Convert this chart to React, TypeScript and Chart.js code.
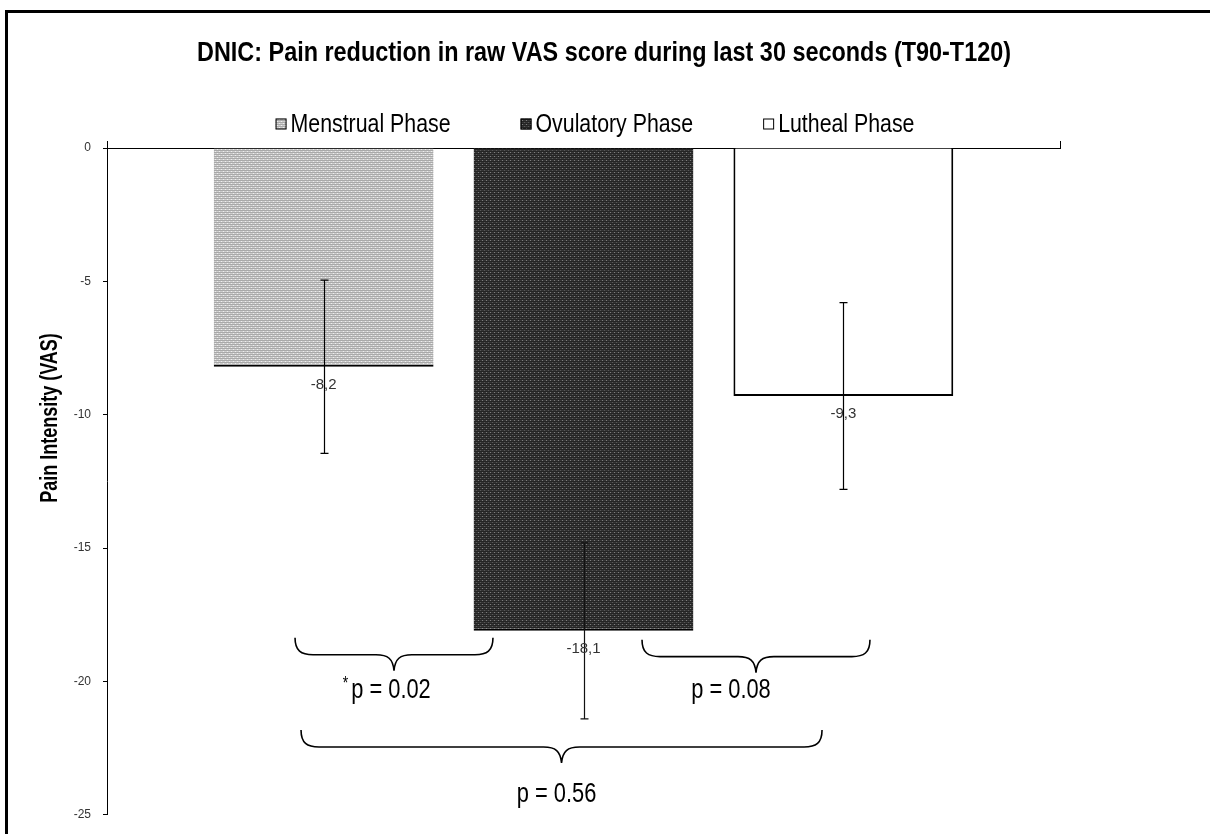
import React, { useEffect, useRef } from 'react';
import { Chart, registerables } from 'chart.js';

Chart.register(...registerables);

// ---------- data ----------
const categories = ['DNIC T90-T120'];
const seriesLabels = ['Menstrual Phase', 'Ovulatory Phase', 'Lutheal Phase'];
const menstrualValues = [-8.2];
const ovulatoryValues = [-18.1];
const lutealValues = [-9.3];
const errorMargins = [3.25, 3.3, 3.5];
const valueLabels = ['-8,2', '-18,1', '-9,3'];
const yTickValues = [0, -5, -10, -15, -20, -25];
const comparisonLabels = ['p = 0.02', 'p = 0.08', 'p = 0.56'];
const comparisonMarks = ['*', '', ''];

const chartTitle = 'DNIC: Pain reduction in raw VAS score during last 30 seconds (T90-T120)';
const yAxisTitle = 'Pain Intensity (VAS)';

// ---------- styles ----------
const SANS = "'Liberation Sans', Arial, sans-serif";
const NARROW_X = 0.82; // horizontal squeeze that emulates Arial Narrow

// brace geometry: x in category-width units around the category centre, y in data units
const braceGeometry = [
  { x0: -0.3027, x1: -0.095, yLine: -19.0, yLabel: -20.34, labelDx: -3 },
  { x0: 0.0614, x1: 0.3006, yLine: -19.07, yLabel: -20.34, labelDx: -25 },
  { x0: -0.2964, x1: 0.2503, yLine: -22.46, yLabel: -24.22, labelDx: -5 },
];

function makePattern(kind: string): CanvasPattern | string {
  const c = document.createElement('canvas');
  c.width = 4;
  c.height = 4;
  const g = c.getContext('2d');
  if (!g) return kind === 'light' ? '#c8c8c8' : '#3a3a3a';
  if (kind === 'light') {
    g.fillStyle = '#cdcdcd';
    g.fillRect(0, 0, 4, 4);
    g.fillStyle = '#a9a9a9';
    g.fillRect(0, 0, 4, 1);
    g.fillRect(0, 2, 4, 1);
    g.fillStyle = '#efefef';
    g.fillRect(1, 1, 1, 1);
    g.fillRect(3, 3, 1, 1);
  } else {
    g.fillStyle = '#363636';
    g.fillRect(0, 0, 4, 4);
    g.fillStyle = '#242424';
    g.fillRect(0, 1, 4, 1);
    g.fillRect(0, 3, 4, 1);
    g.fillStyle = '#7e7e7e';
    g.fillRect(2, 0, 1, 1);
    g.fillStyle = '#585858';
    g.fillRect(0, 2, 1, 1);
  }
  return g.createPattern(c, 'repeat') || '#888';
}

function drawText(
  ctx: CanvasRenderingContext2D,
  text: string,
  x: number,
  y: number,
  font: string,
  sx: number,
  align: CanvasTextAlign = 'center',
  rotate = 0
) {
  ctx.save();
  ctx.translate(x, y);
  if (rotate) ctx.rotate(rotate);
  ctx.scale(sx, 1);
  ctx.font = font;
  ctx.textAlign = align;
  ctx.textBaseline = 'middle';
  ctx.fillStyle = '#000';
  ctx.fillText(text, 0, 0);
  ctx.restore();
}

export default function App() {
  const canvasRef = useRef<HTMLCanvasElement | null>(null);

  useEffect(() => {
    const canvas = canvasRef.current;
    if (!canvas) return;
    const light = makePattern('light');
    const dark = makePattern('dark');
    const fills = [light, dark, '#ffffff'];

    const decorPlugin = {
      id: 'decor',
      beforeDraw(chart: any) {
        const { ctx, width, height } = chart;
        ctx.save();
        ctx.fillStyle = '#ffffff';
        ctx.fillRect(0, 0, width, height);
        ctx.fillStyle = '#000000';
        ctx.fillRect(5, 10, width - 5, 3);
        ctx.fillRect(5, 10, 3, height - 10);
        ctx.restore();
      },
      afterDatasetsDraw(chart: any) {
        const { ctx } = chart;
        const y = chart.scales.y;
        ctx.save();
        chart.data.datasets.forEach((ds: any, i: number) => {
          const bar = chart.getDatasetMeta(i).data[0];
          if (!bar) return;
          const v = ds.data[0];
          const e = errorMargins[i];
          const yt = y.getPixelForValue(v + e);
          const yb = y.getPixelForValue(v - e);
          const x = Math.round(bar.x) + 0.5;
          ctx.strokeStyle = i === 1 ? '#111' : '#000';
          ctx.lineWidth = 1.2;
          ctx.beginPath();
          ctx.moveTo(x, yt);
          ctx.lineTo(x, yb);
          ctx.moveTo(x - 4, yt);
          ctx.lineTo(x + 4, yt);
          ctx.moveTo(x - 4, yb);
          ctx.lineTo(x + 4, yb);
          ctx.stroke();
          ctx.fillStyle = '#333';
          ctx.font = `15px ${SANS}`;
          ctx.textAlign = 'center';
          ctx.textBaseline = 'middle';
          ctx.fillText(valueLabels[i], bar.x, y.getPixelForValue(v) + 18);
        });
        ctx.restore();
      },
      afterDraw(chart: any) {
        const { ctx } = chart;
        const xs = chart.scales.x;
        const ys = chart.scales.y;
        const catW = xs.right - xs.left;
        const cx = xs.getPixelForValue(0);
        ctx.save();
        // title
        const titleFont = `bold 27px ${SANS}`;
        ctx.font = titleFont;
        const tw = ctx.measureText(chartTitle).width;
        drawText(ctx, chartTitle, 604, 54, titleFont, 814 / tw);

        // braces + p values
        const pFont = `28px ${SANS}`;
        const pSx = 0.78;
        braceGeometry.forEach((b, i) => {
          const x0 = cx + b.x0 * catW;
          const x1 = cx + b.x1 * catW;
          const xm = (x0 + x1) / 2;
          const yl = ys.getPixelForValue(b.yLine);
          const yTop = yl - 17;
          const yTip = yl + 16;
          const r = 18;
          const r2 = 18;
          ctx.strokeStyle = '#000';
          ctx.lineWidth = 1.6;
          ctx.beginPath();
          ctx.moveTo(x0, yTop);
          ctx.bezierCurveTo(x0, yl - 4, x0 + 6, yl, x0 + r, yl);
          ctx.lineTo(xm - r2, yl);
          ctx.bezierCurveTo(xm - 6, yl, xm - 1, yl + 4, xm, yTip);
          ctx.moveTo(xm, yTip);
          ctx.bezierCurveTo(xm + 1, yl + 4, xm + 6, yl, xm + r2, yl);
          ctx.lineTo(x1 - r, yl);
          ctx.bezierCurveTo(x1 - 6, yl, x1, yl - 4, x1, yTop);
          ctx.stroke();
          const ly = ys.getPixelForValue(b.yLabel);
          const lx = xm + b.labelDx;
          drawText(ctx, comparisonLabels[i], lx, ly, pFont, pSx);
          if (comparisonMarks[i]) {
            ctx.font = pFont;
            const w = ctx.measureText(comparisonLabels[i]).width * pSx;
            drawText(ctx, comparisonMarks[i], lx - w / 2 - 3, ly - 6, `18px ${SANS}`, pSx, 'right');
          }
        });

        // legend
        const font = `26px ${SANS}`;
        ctx.font = font;
        const box = 11;
        const boxGap = 4;
        const itemGap = 70;
        const widths = seriesLabels.map((t) => ctx.measureText(t).width * NARROW_X);
        const total = widths.reduce((a, w) => a + box + boxGap + w, 0) + itemGap * (seriesLabels.length - 1);
        let lx = 595 - total / 2;
        const ly = 124;
        seriesLabels.forEach((t, i) => {
          ctx.fillStyle = fills[i] as any;
          ctx.fillRect(lx, ly - box / 2, box, box);
          ctx.strokeStyle = '#000';
          ctx.lineWidth = 1;
          ctx.strokeRect(lx + 0.5, ly - box / 2 + 0.5, box - 1, box - 1);
          drawText(ctx, t, lx + box + boxGap, ly + 1, font, NARROW_X, 'left');
          lx += box + boxGap + widths[i] + itemGap;
        });

        // y axis title
        drawText(ctx, yAxisTitle, 50, 418, `bold 24px ${SANS}`, 0.75, 'center', -Math.PI / 2);
        ctx.restore();
      },
    };

    const datasetValues = [menstrualValues, ovulatoryValues, lutealValues];
    const borders = [
      { top: 0, left: 0, right: 0, bottom: 2 },
      { top: 0, left: 0, right: 0, bottom: 2 },
      { top: 0, left: 2, right: 2, bottom: 2 },
    ];

    const chart = new Chart(canvas, {
      type: 'bar',
      data: {
        labels: categories,
        datasets: seriesLabels.map((label, i) => ({
          label,
          data: datasetValues[i],
          backgroundColor: fills[i] as any,
          borderColor: '#000000',
          borderWidth: borders[i] as any,
          borderSkipped: false,
          categoryPercentage: 0.818,
          barPercentage: 0.846,
        })),
      },
      options: {
        animation: false,
        responsive: false,
        devicePixelRatio: 1,
        events: [],
        layout: { padding: { left: 0, right: 150, top: 0, bottom: 16 } },
        plugins: {
          legend: { display: false },
          tooltip: { enabled: false },
          title: { display: false },
        },
        scales: {
          x: {
            position: 'top',
            offset: true,
            ticks: { display: false },
            grid: {
              display: true,
              offset: true,
              drawOnChartArea: false,
              drawTicks: true,
              tickLength: 7,
              color: '#000',
              lineWidth: 1,
            },
            border: { display: true, color: '#000', width: 1 },
            afterFit: (s: any) => {
              s.height = 148;
            },
          },
          y: {
            min: -25,
            max: 0,
            afterBuildTicks: (s: any) => {
              s.ticks = yTickValues.map((v) => ({ value: v }));
            },
            ticks: {
              color: '#333',
              font: { family: SANS, size: 12 },
              padding: 12,
            },
            grid: {
              display: true,
              drawOnChartArea: false,
              drawTicks: true,
              tickLength: 4,
              color: '#000',
              lineWidth: 1,
            },
            border: { display: true, color: '#000', width: 1 },
            afterFit: (s: any) => {
              s.width = 107;
            },
          },
        },
      },
      plugins: [decorPlugin],
    } as any);

    return () => {
      chart.destroy();
    };
  }, []);

  return (
    <div style={{ position: 'absolute', left: 0, top: 0, width: 1210, height: 834, background: '#fff' }}>
      <canvas ref={canvasRef} width={1210} height={834} style={{ display: 'block', width: 1210, height: 834 }} />
    </div>
  );
}
